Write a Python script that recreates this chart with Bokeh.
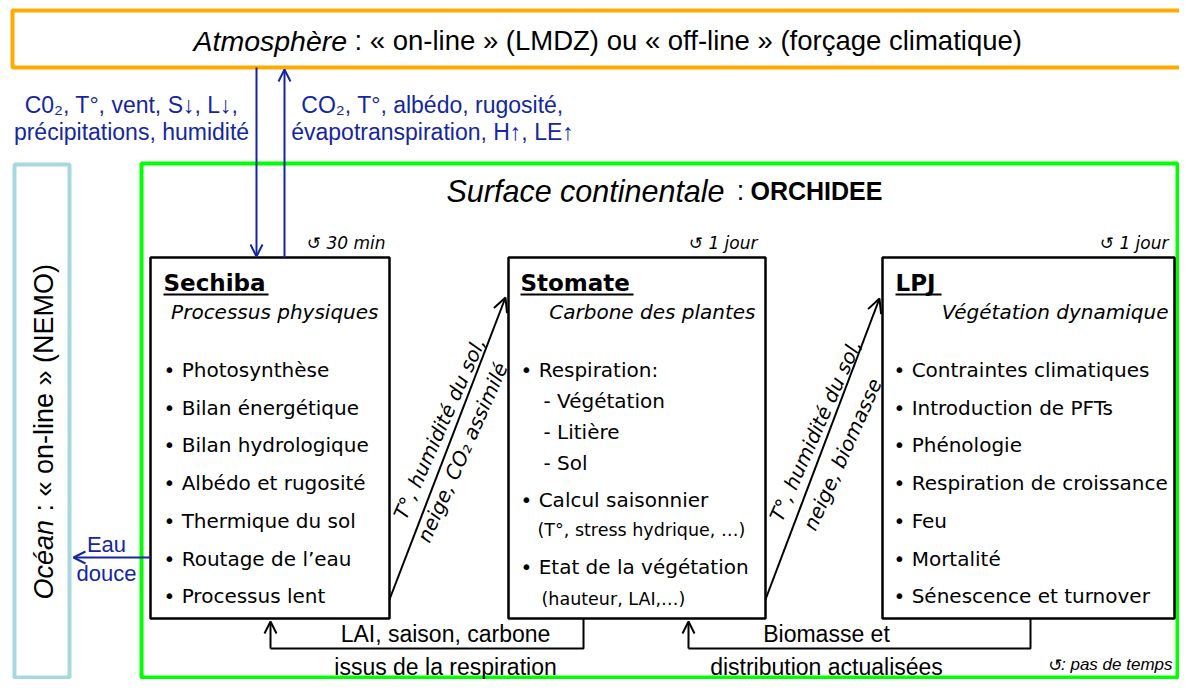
from math import pi, radians
from bokeh.plotting import figure
from bokeh.models import Range1d, Arrow, OpenHead
from bokeh.core.properties import value
from bokeh.embed import file_html
from bokeh.resources import INLINE

# ---------------- texts (content) ----------------
atmos_name = "Atmosphère"
atmos_desc = ": « on-line » (LMDZ) ou « off-line » (forçage climatique)"
flux_down = ["C0₂, T°, vent, S↓, L↓,", "précipitations, humidité"]
flux_up = ["CO₂, T°, albédo, rugosité,", "évapotranspiration, H↑, LE↑"]
ocean_name = "Océan"
ocean_desc = ": « on-line » (NEMO)"
surface_name = "Surface continentale"
surface_sep = ":"
surface_model = "ORCHIDEE"
modules = ["Sechiba", "Stomate", "LPJ"]
roles = ["Processus physiques", "Carbone des plantes", "Végétation dynamique"]
timesteps = ["↺ 30 min", "↺ 1 jour", "↺ 1 jour"]
sechiba_items = ["Photosynthèse", "Bilan énergétique", "Bilan hydrologique",
                 "Albédo et rugosité", "Thermique du sol", "Routage de l’eau",
                 "Processus lent"]
stomate_items = ["Respiration:", "Calcul saisonnier", "Etat de la végétation"]
stomate_sub = ["- Végétation", "- Litière", "- Sol"]
stomate_notes = ["(T°, stress hydrique, …)", "(hauteur, LAI,…)"]
lpj_items = ["Contraintes climatiques", "Introduction de PFTs", "Phénologie",
             "Respiration de croissance", "Feu", "Mortalité",
             "Sénescence et turnover"]
link1 = ["T°, humidité du sol,", "neige, CO₂ assimilé"]
link2 = ["T°, humidité du sol,", "neige, biomasse"]
feedback1 = ["LAI, saison, carbone", "issus de la respiration"]
feedback2 = ["Biomasse et", "distribution actualisées"]
runoff = ["Eau", "douce"]
legend_sym = "↺"
legend_txt = ": pas de temps"

# ---------------- style ----------------
ARIAL = "Liberation Sans"
TAHOMA = "DejaVu Sans"
BLUE = "#15279E"
ORANGE = "#FFAA00"
GREEN = "#00FF00"
LIGHTBLUE = "#A8D8DF"

# ---------------- layout (pixel positions) ----------------
box_left = [150, 508, 882]
box_right = [389, 765, 1174]
box_top, box_bottom = 257, 618
bullet_y = [369, 407, 444, 482, 520, 558, 595]

p = figure(width=1179, height=679, x_range=Range1d(0, 1179), y_range=Range1d(679, 0),
           output_backend="svg", toolbar_location=None, x_axis_type=None, y_axis_type=None,
           min_border=0)
p.grid.visible = False
p.outline_line_color = None
p.background_fill_color = "white"
p.border_fill_color = "white"


def txt(x, y, s, size, font=ARIAL, style="normal", color="black", align="left",
        baseline="middle", angle=0.0):
    p.text(x=[x], y=[y], text=[s], angle=angle, text_font=value(font),
           text_font_size=value(f"{size}px"), text_font_style=style,
           text_color=color, text_align=align, text_baseline=baseline)


def arrow(x0, y0, x1, y1, color="black", width=2.0, size=12):
    p.add_layout(Arrow(end=OpenHead(size=size, line_color=color, line_width=width),
                       x_start=x0, y_start=y0, x_end=x1, y_end=y1,
                       line_color=color, line_width=width))


# ---- big frames ----
p.quad(left=[12], right=[1210], top=[10], bottom=[67], fill_color=None,
       line_color=ORANGE, line_width=4)
p.quad(left=[14], right=[69], top=[164], bottom=[677], fill_color=None,
       line_color=LIGHTBLUE, line_width=4)
p.quad(left=[141], right=[1177], top=[163], bottom=[677], fill_color=None,
       line_color=GREEN, line_width=4)

# ---- atmosphere ----
txt(193, 40, atmos_name, 28.5, style="italic")
txt(354, 40, atmos_desc, 27.5)

# atmosphere <-> sechiba fluxes
arrow(256, 67, 256, 256, color=BLUE, width=2, size=12)
arrow(284, 257, 284, 69, color=BLUE, width=2, size=12)
txt(131, 104, flux_down[0], 23, color=BLUE, align="center")
txt(131, 131, flux_down[1], 23, color=BLUE, align="center")
txt(432, 104, flux_up[0], 23, color=BLUE, align="center")
txt(432, 131, flux_up[1], 23, color=BLUE, align="center")

# ---- ocean ----
txt(43, 599, ocean_name, 27, style="italic", angle=pi / 2)
txt(43, 511, ocean_desc, 27, angle=pi / 2)
arrow(150, 557, 73, 557, color=BLUE, width=2, size=12)
txt(106, 544, runoff[0], 22, color=BLUE, align="center")
txt(106, 573, runoff[1], 22, color=BLUE, align="center")

# ---- surface continentale ----
txt(446, 190, surface_name, 30.5, style="italic")
txt(740, 190, surface_sep, 27, align="center")
txt(750, 190, surface_model, 25, style="bold")

# ---- module boxes ----
p.quad(left=box_left, right=box_right, top=[box_top] * 3, bottom=[box_bottom] * 3,
       fill_color="white", line_color="black", line_width=2.5)

title_x = [163, 520, 895]
title_w = [105, 113, 46]
for i in range(3):
    txt(title_x[i], 282, modules[i], 23, font=TAHOMA, style="bold")
    p.line(x=[title_x[i], title_x[i] + title_w[i]], y=[294, 294], line_color="black",
           line_width=2)

txt(378, 311, roles[0], 20, font=TAHOMA, style="italic", align="right")
txt(755, 311, roles[1], 20, font=TAHOMA, style="italic", align="right")
txt(1168, 311, roles[2], 20, font=TAHOMA, style="italic", align="right")

for xr, s in zip([385, 757, 1168], timesteps):
    txt(xr, 242, s, 17, font=TAHOMA, style="italic", align="right")

for y, s in zip(bullet_y, sechiba_items):
    txt(163, y, "• " + s, 20, font=TAHOMA)
for y, s in zip(bullet_y, lpj_items):
    txt(893, y, "• " + s, 20, font=TAHOMA)

txt(520, 369, "• " + stomate_items[0], 20, font=TAHOMA)
for y, s in zip([400, 431, 462], stomate_sub):
    txt(543, y, s, 20, font=TAHOMA)
txt(520, 499, "• " + stomate_items[1], 20, font=TAHOMA)
txt(537, 529, stomate_notes[0], 17.5, font=TAHOMA)
txt(520, 566, "• " + stomate_items[2], 20, font=TAHOMA)
txt(541, 598, stomate_notes[1], 17.5, font=TAHOMA)

# ---- diagonal links ----
arrow(389, 599, 505, 297, width=2, size=14)
arrow(765, 599, 879, 298, width=2, size=14)
ang = radians(66)
txt(439, 428, link1[0], 20, font=TAHOMA, style="italic", align="center", angle=ang)
txt(462, 452, link1[1], 20, font=TAHOMA, style="italic", align="center", angle=ang)
txt(815, 430, link2[0], 20, font=TAHOMA, style="italic", align="center", angle=ang)
txt(842, 454, link2[1], 20, font=TAHOMA, style="italic", align="center", angle=ang)

# ---- feedback links ----
p.line(x=[583, 583, 270], y=[618, 648, 648], line_color="black", line_width=2)
arrow(270, 648, 270, 621, width=2, size=12)
p.line(x=[1030, 1030, 688], y=[618, 648, 648], line_color="black", line_width=2)
arrow(688, 648, 688, 621, width=2, size=12)
txt(445, 633, feedback1[0], 23, align="center")
txt(445, 666, feedback1[1], 23, align="center")
txt(826, 633, feedback2[0], 23, align="center")
txt(826, 666, feedback2[1], 23, align="center")

# ---- legend ----
txt(1062, 664, legend_sym, 17, font=TAHOMA, align="right")
txt(1172, 664, legend_txt, 17, style="italic", align="right")

open("out.html", "w").write(file_html(p, INLINE))
